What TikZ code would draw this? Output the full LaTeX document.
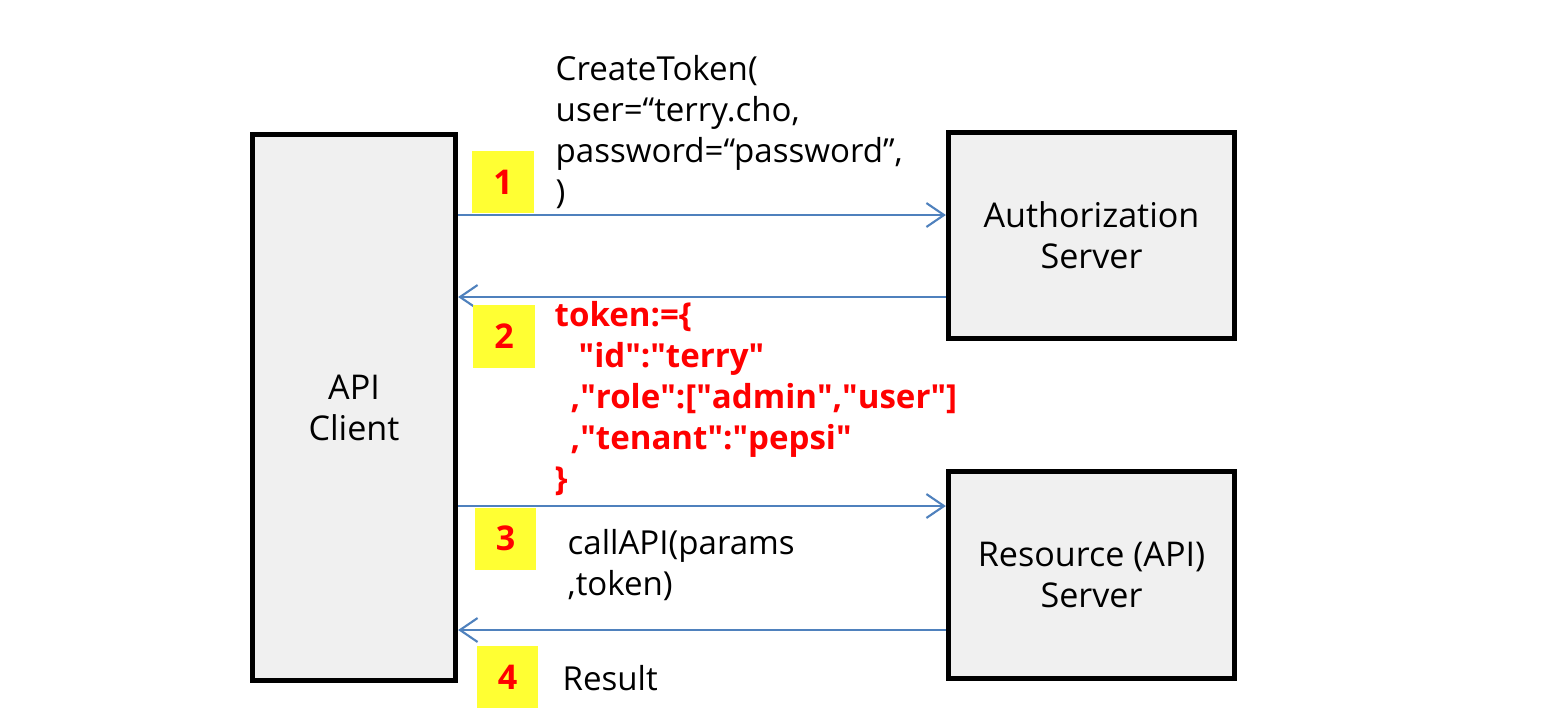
\documentclass[tikz,border=0pt]{standalone}
\usepackage{fontspec}
\setmainfont{Open Sans}
\usetikzlibrary{arrows.meta}
\definecolor{msgblue}{HTML}{4F81BD}
\definecolor{boxgray}{HTML}{F0F0F0}
\definecolor{badgeyellow}{HTML}{FFFF33}
\newcommand{\dq}{\textquotedbl}

\begin{document}
\begin{tikzpicture}[x=0.01cm,y=-0.01cm,
        party/.style={draw=black,line width=1.45pt,fill=boxgray,align=center,inner sep=0pt,
                      font=\fontsize{9.7}{11.67}\selectfont},
        msg/.style={draw=msgblue,line width=0.6pt,
                    -{Straight Barb[length=5pt,width=6.8pt,line width=0.6pt]}},
        badge/.style={fill=badgeyellow,minimum width=0.61cm,minimum height=0.62cm,inner sep=0pt,
                      text=red,font=\fontsize{9.7}{11}\selectfont\bfseries},
        call/.style={anchor=base west,align=left,inner sep=0pt,
                     font=\fontsize{9.4}{11.6}\selectfont}]
    \useasboundingbox ( 0,0 ) rectangle ( 1548,726 );
    \node [party,minimum width=2.03cm,minimum height=5.46cm] (client) at ( 354,407.5 ) {API\\Client};
    \node [party,minimum width=2.86cm,minimum height=2.06cm] (auth) at ( 1091.5,235.5 ) {Authorization\\Server};
    \node [party,minimum width=2.86cm,minimum height=2.07cm] (resource) at ( 1091.5,575 ) {Resource (API)\\Server};

    \coordinate (m1) at ( 700,215 );
    \coordinate (m2) at ( 700,297 );
    \coordinate (m3) at ( 700,506 );
    \coordinate (m4) at ( 700,630 );
    \draw [msg] (client.east |- m1) -- (auth.west |- m1);
    \draw [msg] (auth.west |- m2) -- (client.east |- m2);
    \draw [msg] (client.east |- m3) -- (resource.west |- m3);
    \draw [msg] (resource.west |- m4) -- (client.east |- m4);

    \node [badge] (b1) at ( 503,182 ) {1};
    \node [badge] (b2) at ( 504,336.5 ) {2};
    \node [badge] (b3) at ( 505.5,538.5 ) {3};
    \node [badge] (b4) at ( 507.5,677 ) {4};

    \node [call] (create) at ( 555,203 ) {CreateToken(\\user=“terry.cho,\\password=“password”,\\)};
    \node [call,text=red,font=\fontsize{9.4}{11.6}\selectfont\bfseries] (token) at ( 554,490 )
          {token:=\{\\\hspace*{0.24cm}\dq id\dq:\dq terry\dq\\\hspace*{0.16cm},\dq role\dq:[\dq admin\dq,\dq user\dq]\\
           \hspace*{0.16cm},\dq tenant\dq:\dq pepsi\dq\\\}};
    \node [call] (callapi) at ( 567,595 ) {callAPI(params\\,token)};
    \node [call] (result) at ( 562,690 ) {Result};
\end{tikzpicture}
\end{document}
